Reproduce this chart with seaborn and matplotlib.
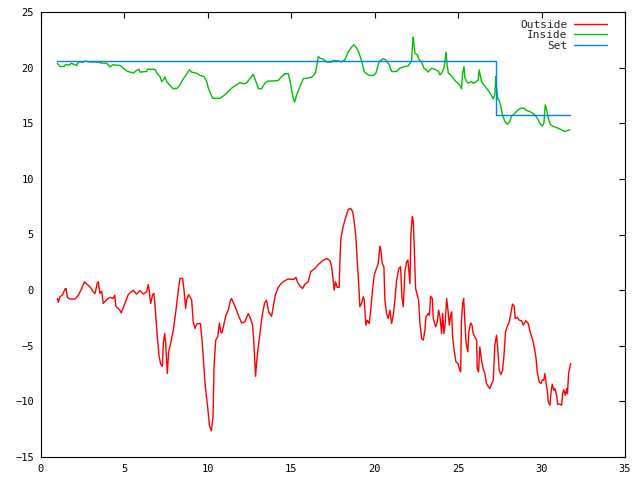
import pandas as pd
import seaborn as sns
import matplotlib.pyplot as plt

sns.set_theme(style="white")
plt.rcParams["font.family"] = ["DejaVu Sans Mono", "DejaVu Sans"]

# values
outside_x = [0.98, 1.04, 1.14, 1.3, 1.44, 1.5, 1.58, 1.74, 2.04, 2.24, 2.44, 2.6, 2.74, 2.94,
             3.13, 3.24, 3.37, 3.43, 3.54, 3.64, 3.73, 3.94, 4.13, 4.33, 4.42, 4.49, 4.73,
             4.81, 5.03, 5.23, 5.53, 5.73, 5.93, 6.13, 6.33, 6.43, 6.47, 6.57, 6.69, 6.77,
             6.83, 6.89, 6.97, 7.07, 7.17, 7.27, 7.33, 7.41, 7.47, 7.57, 7.65, 7.77, 7.93,
             8.09, 8.23, 8.33, 8.49, 8.57, 8.67, 8.73, 8.85, 9.03, 9.12, 9.23, 9.33, 9.49,
             9.55, 9.65, 9.73, 9.81, 9.89, 9.99, 10.09, 10.21, 10.31, 10.37, 10.47, 10.59,
             10.69, 10.77, 10.85, 10.97, 11.08, 11.22, 11.36, 11.42, 11.56, 11.72, 11.88,
             12.03, 12.22, 12.42, 12.56, 12.68, 12.76, 12.82, 12.86, 12.92, 13.02, 13.12,
             13.26, 13.4, 13.52, 13.64, 13.82, 13.92, 14.04, 14.22, 14.42, 14.62, 14.82,
             15.12, 15.28, 15.36, 15.52, 15.68, 15.82, 16.02, 16.16, 16.42, 16.62, 16.88,
             17.12, 17.32, 17.42, 17.51, 17.57, 17.65, 17.75, 17.87, 17.91, 17.97, 18.11,
             18.27, 18.41, 18.56, 18.68, 18.77, 18.87, 18.95, 19.04, 19.11, 19.21, 19.31,
             19.37, 19.47, 19.55, 19.67, 19.75, 19.87, 19.97, 20.07, 20.21, 20.31, 20.37,
             20.45, 20.55, 20.61, 20.71, 20.81, 20.91, 21.01, 21.11, 21.21, 21.31, 21.45,
             21.55, 21.63, 21.71, 21.81, 21.91, 21.99, 22.11, 22.17, 22.25, 22.31, 22.37,
             22.45, 22.55, 22.63, 22.71, 22.81, 22.91, 23.01, 23.07, 23.21, 23.28, 23.35,
             23.45, 23.51, 23.59, 23.65, 23.75, 23.83, 23.91, 24.01, 24.07, 24.15, 24.22,
             24.31, 24.39, 24.47, 24.55, 24.61, 24.67, 24.77, 24.87, 24.99, 25.07, 25.15,
             25.2, 25.27, 25.33, 25.38, 25.47, 25.58, 25.64, 25.75, 25.83, 25.9, 26.0,
             26.11, 26.14, 26.22, 26.3, 26.4, 26.5, 26.6, 26.7, 26.8, 26.9, 27.0, 27.1,
             27.2, 27.3, 27.38, 27.46, 27.56, 27.66, 27.74, 27.84, 27.94, 28.06, 28.16,
             28.26, 28.36, 28.42, 28.54, 28.66, 28.8, 28.9, 29.06, 29.2, 29.34, 29.5,
             29.66, 29.74, 29.86, 29.96, 30.06, 30.13, 30.2, 30.26, 30.34, 30.4, 30.5,
             30.56, 30.64, 30.74, 30.8, 30.9, 30.96, 31.1, 31.2, 31.26, 31.33, 31.42,
             31.5, 31.55, 31.62, 31.74]
outside_y = [-0.75, -1.1, -0.6, -0.4, 0.1, 0.15, -0.65, -0.8, -0.8, -0.45, 0.15, 0.75, 0.55, 0.3,
             -0.15, -0.3, 0.6, 0.75, -0.3, -0.1, -1.2, -0.85, -0.65, -0.75, -0.45, -1.45, -1.8,
             -2.05, -1.2, -0.4, 0.0, -0.35, -0.05, -0.35, -0.15, 0.5, 0.1, -1.2, -0.4, -0.3,
             -1.35, -2.55, -4.2, -5.85, -6.65, -6.85, -4.8, -3.9, -4.7, -7.5, -5.55, -4.75, -3.6,
             -1.8, 0.0, 1.05, 1.05, 0.0, -1.65, -0.85, -0.4, -0.9, -2.85, -3.45, -3.05, -3.0,
             -3.0, -4.5, -6.15, -7.95, -9.3, -10.5, -12.15, -12.65, -11.4, -6.9, -4.5, -4.2,
             -2.95, -3.75, -3.85, -3.0, -2.25, -1.8, -0.9, -0.75, -1.25, -1.8, -2.45,
             -2.95, -2.85, -2.1, -2.55, -3.15, -4.8, -6.6, -7.75, -6.5, -5.1, -3.9,
             -2.25, -1.15, -0.9, -1.95, -2.35, -1.5, -0.45, 0.25, 0.65, 0.85, 1.0,
             0.95, 1.15, 0.75, 0.35, 0.15, 0.55, 0.75, 1.65, 1.95, 2.3, 2.65,
             2.85, 2.65, 2.1, 0.9, 0.0, 0.75, 0.25, 0.25, 2.4, 4.65, 5.7,
             6.6, 7.25, 7.35, 7.05, 6.15, 4.8, 2.7, 0.6, -1.5, -1.2, -0.6,
             -0.9, -3.15, -2.7, -3.0, -1.95, 0.0, 1.35, 1.8, 2.4, 3.95, 3.6,
             2.4, 2.1, -0.9, -2.1, -2.55, -1.8, -3.0, -2.25, -0.9, 0.9, 1.95,
             2.1, -0.6, -1.5, 1.65, 2.55, 2.7, 0.6, 5.1, 6.6, 6.2, 3.9,
             0.15, -0.45, -0.9, -3.0, -4.35, -4.5, -3.6, -2.4, -2.1, -2.25, -0.55,
             -0.75, -2.55, -3.0, -3.3, -2.85, -1.8, -2.4, -3.9, -2.1, -3.9, -3.0,
             -0.75, -1.8, -3.15, -2.25, -1.95, -4.2, -5.55, -6.45, -6.6, -7.05, -7.35,
             -2.7, -1.2, -0.75, -2.1, -4.65, -5.55, -3.75, -2.95, -3.15, -3.9, -4.2,
             -4.5, -7.05, -7.35, -5.1, -6.3, -7.05, -7.5, -8.4, -8.65, -8.85, -8.45, -8.1,
             -4.95, -4.05, -5.4, -7.2, -7.6, -7.2, -6.0, -3.75, -3.3, -2.85, -2.1,
             -1.25, -1.45, -2.55, -2.45, -2.7, -2.75, -3.15, -2.75, -3.0, -3.9, -4.65,
             -6.0, -7.35, -8.25, -8.4, -8.05, -8.1, -7.5, -8.25, -9.0, -10.05, -10.35,
             -9.3, -8.45, -9.0, -8.85, -9.45, -10.25, -10.25, -10.35, -9.3, -8.95, -9.45,
             -8.85, -9.3, -7.5, -6.6]

inside_x = [0.98, 1.14, 1.38, 1.44, 1.74, 1.8, 2.14, 2.24, 2.54, 2.64, 2.94, 3.43, 3.64, 3.94,
            4.13, 4.3, 4.73, 4.9, 5.13, 5.53, 5.73, 5.87, 5.93, 6.33, 6.37, 6.83, 6.97,
            7.13, 7.23, 7.33, 7.43, 7.53, 7.73, 7.93, 8.17, 8.33, 8.49, 8.69, 8.89, 9.03,
            9.33, 9.53, 9.77, 9.93, 10.03, 10.17, 10.29, 10.73, 11.02, 11.22, 11.42, 11.72,
            11.92, 12.16, 12.3, 12.52, 12.72, 12.88, 13.04, 13.22, 13.42, 13.62, 13.92,
            14.22, 14.42, 14.62, 14.82, 14.92, 15.02, 15.12, 15.2, 15.32, 15.48, 15.72,
            15.92, 16.22, 16.36, 16.44, 16.52, 16.62, 16.72, 16.92, 17.12, 17.42, 17.52,
            17.87, 17.97, 18.21, 18.41, 18.62, 18.75, 18.92, 19.07, 19.17, 19.27, 19.37,
            19.51, 19.67, 19.91, 20.07, 20.27, 20.51, 20.67, 20.87, 21.01, 21.31, 21.51,
            21.81, 22.01, 22.11, 22.21, 22.27, 22.31, 22.35, 22.41, 22.55, 22.67, 22.81,
            22.95, 23.11, 23.2, 23.41, 23.67, 23.83, 23.91, 24.07, 24.17, 24.23, 24.27,
            24.33, 24.41, 24.55, 24.71, 24.87, 25.0, 25.15, 25.2, 25.27, 25.35, 25.41,
            25.51, 25.6, 25.8, 25.9, 26.1, 26.2, 26.26, 26.3, 26.4, 26.54, 26.7, 26.86,
            27.0, 27.1, 27.2, 27.26, 27.3, 27.36, 27.44, 27.54, 27.66, 27.8, 27.94, 28.1,
            28.2, 28.3, 28.46, 28.6, 28.74, 28.94, 29.1, 29.3, 29.46, 29.6, 29.74, 29.9,
            30.04, 30.14, 30.22, 30.3, 30.4, 30.54, 30.74, 31.0, 31.2, 31.4, 31.54, 31.7]
inside_y = [20.4, 20.1, 20.1, 20.25, 20.25, 20.4, 20.2, 20.5, 20.5, 20.6, 20.5, 20.5, 20.4, 20.4,
            20.05, 20.25, 20.2, 20.0, 19.7, 19.5, 19.75, 19.85, 19.6, 19.65, 19.85, 19.85, 19.45,
            19.2, 18.75, 18.9, 19.15, 18.75, 18.4, 18.1, 18.15, 18.45, 18.9, 19.35, 19.8, 19.6,
            19.5, 19.3, 19.2, 18.75, 18.15, 17.65, 17.25, 17.25, 17.55, 17.85, 18.15, 18.45,
            18.65, 18.55, 18.6, 19.0, 19.4, 18.75, 18.1, 18.1, 18.6, 18.8, 18.8,
            18.85, 19.2, 19.45, 19.45, 18.85, 18.0, 17.25, 16.9, 17.55, 18.15, 19.0,
            19.05, 19.15, 19.35, 19.5, 20.1, 21.0, 20.85, 20.75, 20.5, 20.5, 20.65,
            20.6, 20.5, 20.7, 21.4, 21.85, 22.05, 21.75, 21.3, 20.8, 20.25, 19.65,
            19.45, 19.3, 19.3, 19.5, 20.55, 20.8, 20.7, 20.25, 19.65, 19.65, 19.95,
            20.1, 20.15, 20.4, 20.6, 22.2, 22.75, 22.1, 21.3, 21.15, 20.7, 20.5,
            19.95, 19.8, 19.6, 19.95, 19.8, 19.65, 19.35, 19.65, 20.1, 20.85, 21.4,
            20.4, 19.5, 19.35, 19.05, 18.75, 18.6, 18.3, 18.1, 19.5, 20.1, 19.05,
            18.75, 18.6, 18.75, 18.6, 18.75, 18.9, 19.8, 19.5, 18.75, 18.45, 18.15, 17.85,
            17.5, 17.2, 17.6, 19.2, 18.3, 17.25, 17.1, 16.65, 15.75, 15.15, 14.9, 15.15,
            15.65, 15.75, 16.0, 16.2, 16.35, 16.35, 16.15, 16.05, 15.9, 15.75, 15.45, 15.0,
            14.75, 15.0, 16.65, 16.2, 15.45, 14.85, 14.7, 14.55, 14.4, 14.25, 14.35, 14.4]

set_x = [0.96, 27.24, 27.24, 31.7]
set_y = [20.6, 20.6, 15.75, 15.75]

outside = pd.DataFrame({"x": outside_x, "y": outside_y})
inside = pd.DataFrame({"x": inside_x, "y": inside_y})
setpoint = pd.DataFrame({"x": set_x, "y": set_y})

fig = plt.figure(figsize=(6.4, 4.8), dpi=100)
ax = fig.add_axes([41 / 640, 23 / 480, 584 / 640, 445 / 480])

sns.lineplot(data=outside, x="x", y="y", ax=ax, color="#ff0000", lw=1.0,
             estimator=None, sort=False, label="Outside")
sns.lineplot(data=inside, x="x", y="y", ax=ax, color="#00c000", lw=1.0,
             estimator=None, sort=False, label="Inside")
sns.lineplot(data=setpoint, x="x", y="y", ax=ax, color="#0080ff", lw=1.0,
             estimator=None, sort=False, label="Set")

ax.set_xlim(0, 35)
ax.set_ylim(-15, 25)
ax.set_xticks(range(0, 36, 5))
ax.set_yticks(range(-15, 26, 5))
ax.set_xlabel("")
ax.set_ylabel("")
ax.tick_params(direction="in", length=4, width=0.8, top=True, right=True,
               labelsize=7.5, colors="black", pad=5)
for s in ax.spines.values():
    s.set_color("black")
    s.set_linewidth(0.8)

ax.legend(loc="upper right", bbox_to_anchor=(0.983, 1.0), frameon=False,
          markerfirst=False, fontsize=8, handlelength=3.0, handletextpad=0.6,
          labelspacing=0.05, borderaxespad=0.3)

fig.savefig("out.png", dpi=100)
